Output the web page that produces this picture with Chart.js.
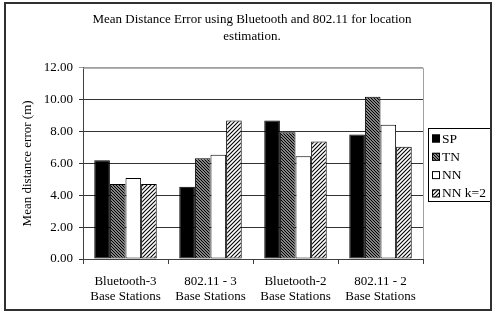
<!DOCTYPE html>
<html>
<head>
<meta charset="utf-8">
<script src="https://cdn.jsdelivr.net/npm/chart.js@4.4.0/dist/chart.umd.min.js"></script>
<style>
  html, body { margin: 0; padding: 0; background: #fff; }
  #wrap { width: 497px; height: 314px; }
</style>
</head>
<body>
<div id="wrap"><canvas id="chart" width="497" height="314"></canvas></div>
<script>
const chartTitle = ['Mean Distance Error using Bluetooth and 802.11 for location', 'estimation.'];
const yTitle = 'Mean distance error (m)';
const categories = [
  ['Bluetooth-3', 'Base Stations'],
  ['802.11 - 3', 'Base Stations'],
  ['Bluetooth-2', 'Base Stations'],
  ['802.11 - 2', 'Base Stations']
];
const seriesNames = ['SP', 'TN', 'NN', 'NN k=2'];
const spValues = [6.20, 4.54, 8.69, 7.81];
const tnValues = [4.71, 6.32, 7.96, 10.18];
const nnValues = [5.09, 6.55, 6.45, 8.42];
const nnK2Values = [4.71, 8.69, 7.37, 7.04];
const yMin = 0, yMax = 12, yStep = 2;

const FONT = 'Liberation Serif';

// small diagonal hatch tiles
function hatch(dir, size, lw) {
  const c = document.createElement('canvas');
  c.width = size; c.height = size;
  const g = c.getContext('2d');
  g.fillStyle = '#fff';
  g.fillRect(0, 0, size, size);
  g.strokeStyle = '#000';
  g.lineWidth = lw;
  g.beginPath();
  if (dir === '/') {
    g.moveTo(-1, size + 1); g.lineTo(size + 1, -1);
    g.moveTo(-1, 1); g.lineTo(1, -1);
    g.moveTo(size - 1, size + 1); g.lineTo(size + 1, size - 1);
  } else {
    g.moveTo(-1, -1); g.lineTo(size + 1, size + 1);
    g.moveTo(-1, size - 1); g.lineTo(1, size + 1);
    g.moveTo(size - 1, -1); g.lineTo(size + 1, 1);
  }
  g.stroke();
  return g.createPattern(c, 'repeat');
}

const ctx = document.getElementById('chart').getContext('2d');
const fills = ['#000', hatch('\\', 3, 1.4), '#fff', hatch('/', 4, 1.1)];
const seriesValues = [spValues, tnValues, nnValues, nnK2Values];

const framePlugin = {
  id: 'frame',
  afterDraw(chart) {
    const c = chart.ctx, a = chart.chartArea;
    c.save();
    // grey top/right edge of plot
    c.strokeStyle = '#a0a0a0';
    c.lineWidth = 1;
    c.beginPath();
    c.moveTo(a.left, a.top + 0.5);
    c.lineTo(a.right + 0.5, a.top + 0.5);
    c.lineTo(a.right + 0.5, a.bottom);
    c.stroke();

    // legend
    const lx = 428, ly = 128, lw = 62, lh = 73;
    c.fillStyle = '#fff';
    c.fillRect(lx, ly, lw, lh);
    c.strokeStyle = '#000';
    c.strokeRect(lx + 0.5, ly + 0.5, lw, lh);
    c.font = '13.5px "' + FONT + '"';
    c.textBaseline = 'middle';
    chart.data.datasets.forEach((ds, i) => {
      const cy = ly + 10.5 + i * 18.3;
      c.fillStyle = ds.backgroundColor;
      c.fillRect(432, cy - 4, 8, 8);
      c.strokeStyle = '#000';
      c.strokeRect(432.5, cy - 3.5, 7, 7);
      c.fillStyle = '#000';
      c.fillText(ds.label, 442, cy + 0.5);
    });

    // outer frame
    c.strokeStyle = '#303030';
    c.lineWidth = 2;
    c.strokeRect(5, 3, 486, 307);
    c.restore();
  }
};

new Chart(ctx, {
  type: 'bar',
  data: {
    labels: categories,
    datasets: seriesNames.map((name, i) => ({
      label: name,
      data: seriesValues[i],
      backgroundColor: fills[i],
      borderColor: '#000',
      borderWidth: 1,
      borderSkipped: false,
      categoryPercentage: 0.735,
      barPercentage: 1.0
    }))
  },
  options: {
    responsive: false,
    animation: false,
    layout: { padding: { left: 7, right: 0, top: 0, bottom: 0 } },
    plugins: {
      legend: { display: false },
      tooltip: { enabled: false },
      title: {
        display: true,
        text: chartTitle,
        color: '#000',
        font: { family: FONT, size: 13, weight: 'normal', lineHeight: 1.3 },
        padding: { top: 11, bottom: 23 }
      }
    },
    scales: {
      x: {
        grid: { drawOnChartArea: false, drawTicks: true, tickLength: 5, color: '#404040', offset: true },
        border: { color: '#404040', width: 1 },
        ticks: {
          color: '#000',
          font: { family: FONT, size: 13, lineHeight: 1.15 },
          padding: 10,
          maxRotation: 0,
          autoSkip: false
        },
        afterFit(scale) { scale.height = 55; }
      },
      y: {
        min: yMin,
        max: yMax,
        grid: {
          color: (c) => c.tick && c.tick.value === yMax ? '#a0a0a0' : '#333',
          tickLength: 4,
          drawTicks: true
        },
        border: { color: '#404040', width: 1 },
        ticks: {
          stepSize: yStep,
          color: '#000',
          font: { family: FONT, size: 13 },
          padding: 6,
          callback: (v) => Number(v).toFixed(2)
        },
        title: {
          display: true,
          text: yTitle,
          color: '#000',
          font: { family: FONT, size: 13 },
          padding: { top: 13, bottom: 0 }
        },
        afterFit(scale) { scale.width = 76; }
      },
      // empty box on the right that keeps room for the legend
      yRoom: {
        axis: 'y',
        position: 'right',
        display: true,
        grid: { display: false, drawTicks: false },
        border: { display: false },
        ticks: { display: false },
        afterFit(scale) { scale.width = 74; }
      }
    }
  },
  plugins: [framePlugin]
});
</script>
</body>
</html>
